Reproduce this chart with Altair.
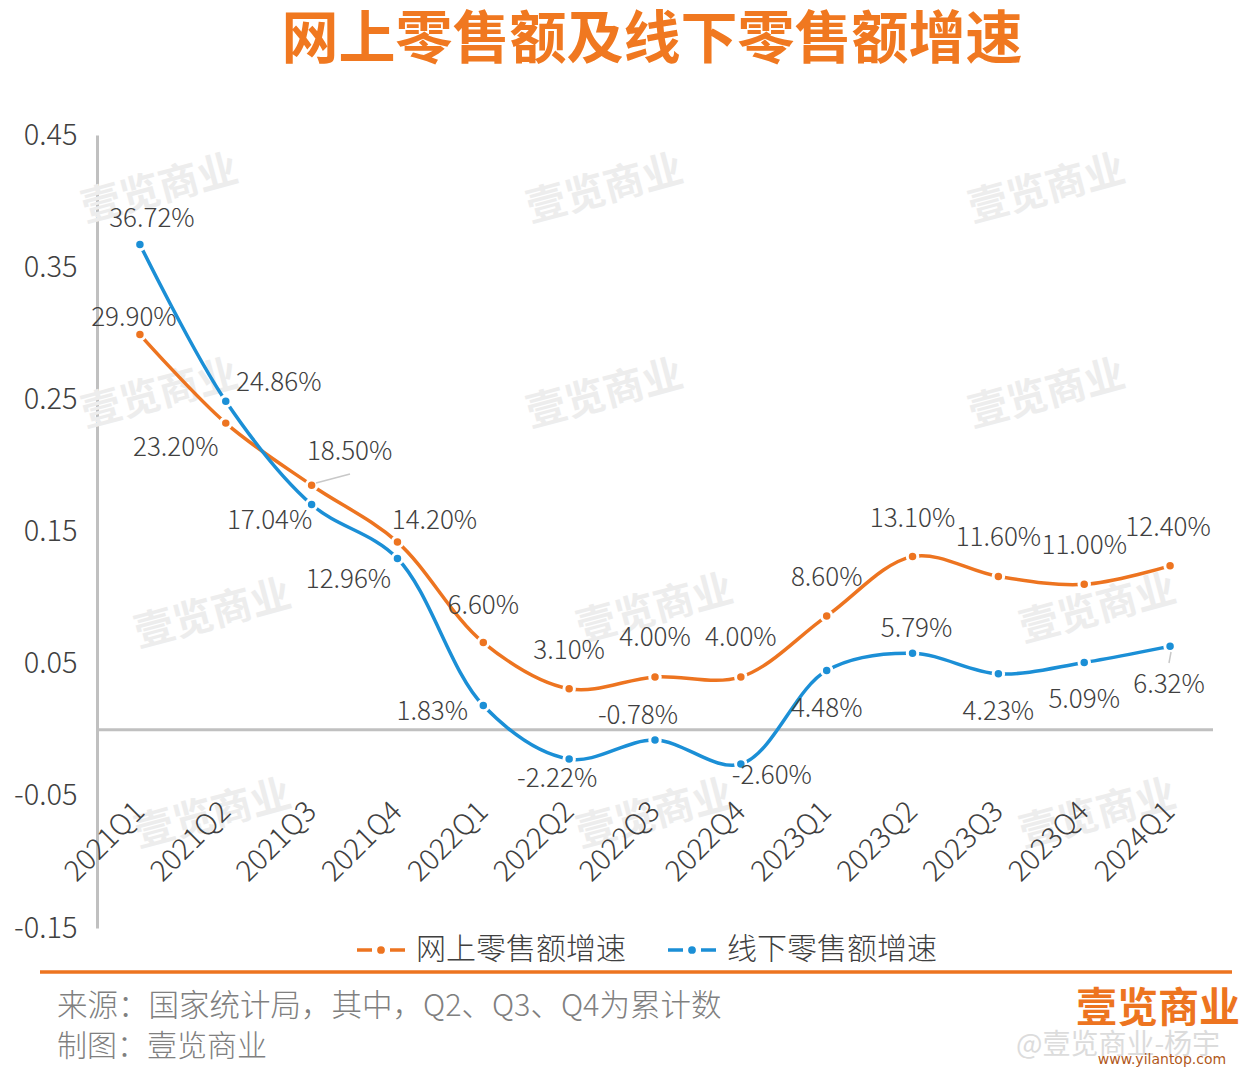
import altair as alt
import pandas as pd

quarters = ["2021Q1", "2021Q2", "2021Q3", "2021Q4", "2022Q1", "2022Q2", "2022Q3",
            "2022Q4", "2023Q1", "2023Q2", "2023Q3", "2023Q4", "2024Q1"]
online = [0.299, 0.232, 0.185, 0.142, 0.066, 0.031, 0.040, 0.040, 0.086, 0.131, 0.116, 0.110, 0.124]
offline = [0.3672, 0.2486, 0.1704, 0.1296, 0.0183, -0.0222, -0.0078, -0.0260, 0.0448, 0.0579, 0.0423, 0.0509, 0.0632]
y_ticks = [-0.15, -0.05, 0.05, 0.15, 0.25, 0.35, 0.45]

# label offsets in pixels (style, not data)
online_dx = [-6, -50, 38, 37, 0, 0, 0, 0, 0, 0, 0, 0, -2]
online_dy = [-17, 25, -33, -21, -37, -38, -39, -39, -38, -38, -38, -38, -38]
offline_dx = [12, 53, -42, -49, -51, -12, -17, 31, 0, 4, 0, 0, -1]
offline_dy = [-25, -18, 16, 22, 6, 20, -24, 12, 38, -24, 38, 38, 39]

ORANGE = "#ED7420"
BLUE = "#1B8FD6"
GRAY_TXT = "#404040"
FONT = "Noto Sans CJK SC"

W, H = 1116, 793
XD = [-0.5, 12.5]
YD = [-0.15, 0.45]
px_x = W / (XD[1] - XD[0])
px_y = H / (YD[1] - YD[0])

rows = []
for i, q in enumerate(quarters):
    rows.append(dict(idx=i, q=q, series="online", v=online[i], lab=f"{online[i]*100:.2f}%",
                     lx=i + online_dx[i] / px_x, ly=online[i] - online_dy[i] / px_y))
    rows.append(dict(idx=i, q=q, series="offline", v=offline[i], lab=f"{offline[i]*100:.2f}%",
                     lx=i + offline_dx[i] / px_x, ly=offline[i] - offline_dy[i] / px_y))
df = pd.DataFrame(rows)
cat_df = pd.DataFrame({"idx": list(range(len(quarters))), "q": quarters})

xs = alt.Scale(domain=XD, nice=False, zero=False)
ys = alt.Scale(domain=YD, nice=False, zero=False)

YAXIS = alt.Axis(
    values=y_ticks, title=None, grid=False, ticks=False,
    labelExpr="datum.value < 0 ? '-' + format(-datum.value, '.2f') : format(datum.value, '.2f')",
    labelFontSize=29, labelColor=GRAY_TXT, labelPadding=20, labelFont=FONT,
    labelFontWeight=300, domainColor="#c0c0c0", domainWidth=3)

def X(field):
    return alt.X(field, type="quantitative", scale=xs, axis=None)

def Y(field):
    return alt.Y(field, type="quantitative", scale=ys, axis=YAXIS)

one = pd.DataFrame({"a": [0]})

def txt(text, x, y, size, color, weight="normal", align="left", angle=0, opacity=1.0, font=FONT):
    return alt.Chart(one).mark_text(
        text=text, fontSize=size, color=color, fontWeight=weight, align=align,
        baseline="middle", font=font, angle=angle, opacity=opacity
    ).encode(x=alt.value(x), y=alt.value(y))

# faint watermarks
wm_pos = [(160, 190), (605, 190), (1047, 190), (160, 395), (605, 395), (1047, 395),
          (213, 615), (655, 610), (1098, 610), (213, 815), (655, 815), (1098, 815)]
wm_layers = [txt("壹览商业", x - 97, y - 135, 40, "#ededed", weight="bold", align="center", angle=345)
             for x, y in wm_pos]

axis_layer = alt.Chart(df).mark_point(opacity=0).encode(x=X("idx"), y=Y("v"))

zero_rule = alt.Chart(df).mark_rule(color="#c0c0c0", strokeWidth=3).encode(
    y=alt.Y("zero:Q", scale=ys, axis=YAXIS), x=alt.value(0), x2=alt.value(W)
).transform_filter("datum.idx == 0 && datum.series == 'online'").transform_calculate(zero="0")

def series_layers(name, color):
    d = df[df.series == name]
    base = alt.Chart(d)
    line = base.mark_line(color=color, strokeWidth=3.5, interpolate="catmull-rom").encode(
        x=X("idx"), y=Y("v"))
    pts = base.mark_point(filled=True, color=color, size=110, stroke="white", strokeWidth=3, opacity=1).encode(
        x=X("idx"), y=Y("v"))
    labels = base.mark_text(fontSize=26, color=GRAY_TXT, font=FONT, fontWeight=300,
                            align="center", baseline="middle").encode(
        x=X("lx"), y=Y("ly"), text="lab:N")
    return [line, pts, labels]

# leader lines
lead1 = alt.Chart(one).mark_rule(color="#c8c8c8", strokeWidth=1.5).encode(
    x=alt.value(316 - 97), y=alt.value(483 - 135), x2=alt.value(350 - 97), y2=alt.value(474 - 135))
lead2 = alt.Chart(one).mark_rule(color="#c8c8c8", strokeWidth=1.5).encode(
    x=alt.value(1171 - 97), y=alt.value(652 - 135), x2=alt.value(1169 - 97), y2=alt.value(663 - 135))

cat_labels = alt.Chart(cat_df).mark_text(
    fontSize=29, color=GRAY_TXT, font=FONT, fontWeight=300, align="right", baseline="middle",
    angle=315, dx=0).encode(
    x=X("idx"), y=alt.value(672), text="q:N")

# title
title = txt("网上零售额及线下零售额增速", 652 - 97, 41 - 135, 57, "#F07820", weight="bold", align="center")

# legend
def legend_item(x0, color, label):
    r = alt.Chart(one).mark_rule(color=color, strokeWidth=3.5, strokeDash=[15, 18]).encode(
        x=alt.value(x0 - 97), x2=alt.value(x0 + 48 - 97), y=alt.value(950 - 135))
    p = alt.Chart(one).mark_point(filled=True, color=color, size=60, opacity=1).encode(
        x=alt.value(x0 + 24 - 97), y=alt.value(950 - 135))
    t = txt(label, x0 + 59 - 97, 950 - 135, 30, GRAY_TXT, weight=300)
    return [r, p, t]

leg = legend_item(357, ORANGE, "网上零售额增速") + legend_item(668, BLUE, "线下零售额增速")

footer_rule = alt.Chart(one).mark_rule(color=ORANGE, strokeWidth=3.5).encode(
    x=alt.value(40 - 97), x2=alt.value(1232 - 97), y=alt.value(972 - 135))

src1 = txt("来源：国家统计局，其中，Q2、Q3、Q4为累计数", 57 - 97, 1007 - 135, 30.5, "#808080", weight=300)
src2 = txt("制图：壹览商业", 57 - 97, 1047 - 135, 30, "#808080", weight=300)
weibo = txt("@壹览商业-杨宇", 1118 - 97, 1046 - 135, 28, "#dcdcdc", align="center")
logo = txt("壹览商业", 1158 - 97, 1010 - 135, 41, ORANGE, weight="bold", align="center")
logo_url = txt("www.yilantop.com", 1162 - 97, 1060 - 135, 14, "#B0581A", align="center", font="DejaVu Sans")

layers = (wm_layers + [axis_layer, zero_rule] + series_layers("online", ORANGE)
          + series_layers("offline", BLUE) + [lead1, lead2, cat_labels, title] + leg
          + [footer_rule, src1, src2, weibo, logo, logo_url])

chart = alt.layer(*layers).properties(
    width=W, height=H,
    background="white",
    autosize=alt.AutoSizeParams(type="none"),
    padding={"left": 89, "top": 127, "right": 31, "bottom": 144},
).configure_view(strokeWidth=0)

chart.save("out.html", embed_options={"renderer": "svg", "actions": False})
